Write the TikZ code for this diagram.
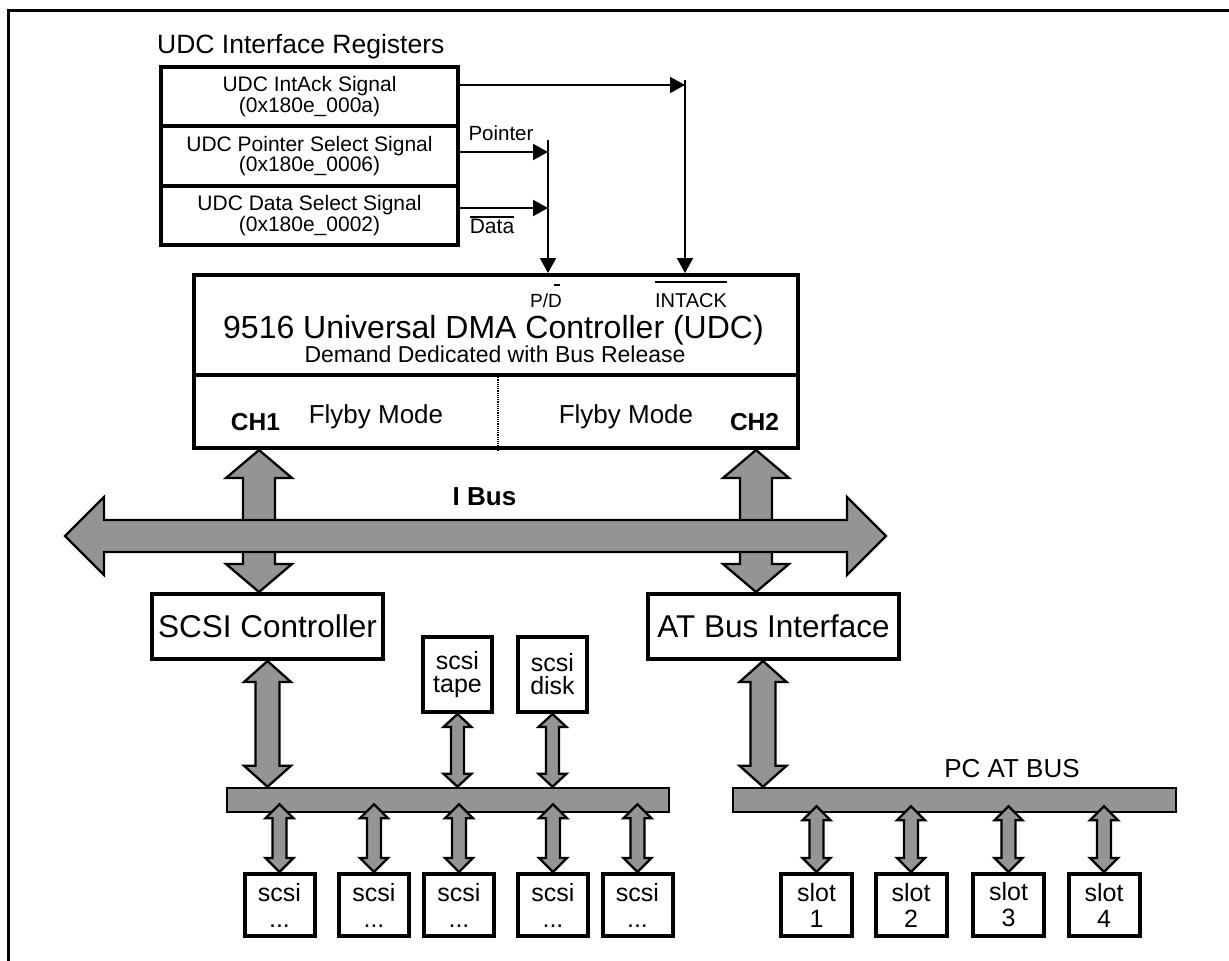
\documentclass[tikz,border=0pt]{standalone}
\usepackage{fontspec}
\setmainfont{Liberation Sans}
\usetikzlibrary{arrows.meta,calc}

% font size helper (sizes in pt, one pt per picture unit)
\newcommand\fs[2]{\fontsize{#1}{#2}\selectfont}

% text with a bar drawn above it: #1 raise of the bar, #2 text
\newlength\barwd
\newcommand\overbar[2]{\settowidth{\barwd}{#2}\rlap{\raisebox{#1}{\rule{\barwd}{2pt}}}#2}

% fat double-headed vertical arrow from #1 (upper tip) to #2 (lower tip)
% #3 shaft half width, #4 head half width, #5 head length
\newcommand\fatv[5]{%
  \filldraw[fat] let \p1=(#1), \p2=(#2) in
    (\x1,\y1) -- (\x1+#4pt,\y1-#5pt) -- (\x1+#3pt,\y1-#5pt) -- (\x1+#3pt,\y2+#5pt)
    -- (\x1+#4pt,\y2+#5pt) -- (\x1,\y2) -- (\x1-#4pt,\y2+#5pt) -- (\x1-#3pt,\y2+#5pt)
    -- (\x1-#3pt,\y1-#5pt) -- (\x1-#4pt,\y1-#5pt) -- cycle;}

% fat double-headed horizontal arrow from #1 (left tip) to #2 (right tip)
\newcommand\fath[5]{%
  \filldraw[fat] let \p1=(#1), \p2=(#2) in
    (\x1,\y1) -- (\x1+#5pt,\y1+#4pt) -- (\x1+#5pt,\y1+#3pt) -- (\x2-#5pt,\y1+#3pt)
    -- (\x2-#5pt,\y1+#4pt) -- (\x2,\y1) -- (\x2-#5pt,\y1-#4pt) -- (\x2-#5pt,\y1-#3pt)
    -- (\x1+#5pt,\y1-#3pt) -- (\x1+#5pt,\y1-#4pt) -- cycle;}

\tikzset{
  frameline/.style={line width=3pt},
  regbox/.style={draw, fill=white, line width=4pt, minimum width=297pt, minimum height=59.3pt,
    inner sep=0pt, align=center, font=\fs{21}{19.5}},
  bigbox/.style={draw, line width=4pt, minimum width=604pt, minimum height=173pt, inner sep=0pt},
  ctlbox/.style={draw, fill=white, line width=4pt, minimum height=65pt, inner sep=0pt,
    font=\fs{31.5}{32}},
  devbox/.style={draw, fill=white, line width=4pt, minimum width=70pt, minimum height=62pt,
    inner sep=0pt, align=center, font=\fs{25}{26}},
  slotbox/.style={devbox, minimum width=71pt, font=\fs{25}{26}},
  tallbox/.style={devbox, minimum width=69pt, minimum height=75pt, font=\fs{25}{23}},
  busbar/.style={draw, fill=black!42, line width=2.5pt, minimum height=24pt, inner sep=0pt},
  fat/.style={fill=black!42, draw=black, line width=2.3pt, line join=miter},
  sig/.style={line width=2pt},
  sigarrow/.style={sig, -{Triangle[length=15pt,width=16pt]}},
  lbl/.style={anchor=base, inner sep=0pt},
  divider/.style={line width=1.2pt, densely dotted},
}

\begin{document}
\begin{tikzpicture}[x=1pt, y=-1pt]
\useasboundingbox (0,0) rectangle (1229,961);

% outer frame (top and left edges)
\draw[frameline] (8.5,961) -- (8.5,10) -- (1229,10);

% ---------- interface registers ----------
\node[lbl, anchor=base west, font=\fs{26.5}{27}] (regtitle) at (157,53) {UDC Interface Registers};
\node[regbox] (reg1) at (309.5,96.7)  {UDC IntAck Signal\\(0x180e\_000a)};
\node[regbox] (reg2) at (309.5,156)   {UDC Pointer Select Signal\\(0x180e\_0006)};
\node[regbox] (reg3) at (309.5,215.3) {UDC Data Select Signal\\(0x180e\_0002)};

% ---------- UDC ----------
\node[bigbox] (udc) at (496,361.5) {};
\coordinate (udcsplit) at (0,375);
\draw[line width=4pt] (udc.west |- udcsplit) -- (udc.east |- udcsplit);
\coordinate (divtop) at (498,375);
\draw[divider] (divtop) -- (divtop |- udc.south);

\node[lbl, font=\fs{19}{19}] (pd) at (546,307)
  {P/\rlap{\hspace{0.3em}\raisebox{21pt}{\rule{0.3em}{2pt}}}D};
\node[lbl, font=\fs{20}{20}] (intack) at (691,307) {\overbar{24pt}{INTACK}};
\node[lbl, font=\fs{32}{32}] (udctitle) at (493.5,338) {9516 Universal DMA Controller (UDC)};
\node[lbl, font=\fs{23}{23}] (udcsub) at (495,362) {Demand Dedicated with Bus Release};
\node[lbl, font=\fs{26}{26}] (fly1) at (376,423) {Flyby Mode};
\node[lbl, font=\fs{26}{26}] (fly2) at (626,423) {Flyby Mode};
\node[lbl, font=\fs{24.5}{25}\bfseries] (ch1lbl) at (255.5,430) {CH1};
\node[lbl, font=\fs{24.5}{25}\bfseries] (ch2lbl) at (754.5,430) {CH2};

% ---------- register signals ----------
\coordinate (intackY) at (0,85);
\coordinate (intackX) at (685,80);
\coordinate (ptrY) at (0,152);
\coordinate (dataY) at (0,208);
\coordinate (pdX) at (548,140);
\draw[sigarrow] (reg1.east |- intackY) -- (intackX |- intackY);
\draw[sigarrow] (intackX) -- (intackX |- udc.north);
\draw[sigarrow] (reg2.east |- ptrY) -- (pdX |- ptrY);
\draw[sigarrow] (reg3.east |- dataY) -- (pdX |- dataY);
\draw[sigarrow] (pdX) -- (pdX |- udc.north);
\node[lbl, font=\fs{20.5}{21}] (ptrlbl) at (501,140) {Pointer};
\node[lbl, font=\fs{21}{21}] (datalbl) at (492,233) {\overbar{15pt}{Data}};

% ---------- controllers, devices and buses ----------
\node[ctlbox, minimum width=231pt] (scsictl) at (267.5,626.5) {SCSI Controller};
\node[ctlbox, minimum width=251pt] (atbus) at (773.5,626.5) {AT Bus Interface};
\node[tallbox] (tape) at (457.5,674.5) {scsi\\tape};
\node[tallbox] (disk) at (552.5,674.5) {scsi\\disk};
\node[busbar, minimum width=442pt] (scsibus) at (448,800) {};
\node[busbar, minimum width=443pt] (pcbus) at (954.5,800) {};
\node[lbl, font=\fs{26}{26}] (pclbl) at (1012,777) {PC AT BUS};

\node[devbox] (s1) at (279.5,905) {scsi\\...};
\node[devbox] (s2) at (374,905)   {scsi\\...};
\node[devbox] (s3) at (459,905)   {scsi\\...};
\node[devbox] (s4) at (553,905)   {scsi\\...};
\node[devbox] (s5) at (637.5,905) {scsi\\...};

\node[slotbox] (slot1) at (816.5,905) {slot\\1};
\node[slotbox] (slot2) at (911,905)   {slot\\2};
\node[slotbox] (slot3) at (1008.5,905){slot\\3};
\node[slotbox] (slot4) at (1104,905)  {slot\\4};

% ---------- channel arrows and I Bus ----------
\coordinate (ch1) at (259,0);
\coordinate (ch2) at (756,0);
\fatv{ch1 |- udc.south}{ch1 |- scsictl.north}{16}{33}{28}
\fatv{ch2 |- udc.south}{ch2 |- atbus.north}{16}{33}{28}

\coordinate (ibusL) at (65,536);
\coordinate (ibusR) at (886,536);
\fath{ibusL}{ibusR}{16}{39}{39}
\node[lbl, font=\fs{26}{26}\bfseries] (ibuslbl) at (484.5,505) {I Bus};

% ---------- local bus arrows ----------
\fatv{scsictl.south}{scsibus.north -| scsictl.south}{12}{23.5}{21}
\coordinate (atx) at (763,0);
\fatv{atx |- atbus.south}{atx |- pcbus.north}{12.5}{23.5}{21}
\fatv{tape.south}{scsibus.north -| tape.south}{6.5}{14}{13}
\fatv{disk.south}{scsibus.north -| disk.south}{6.5}{14}{13}

\foreach \d in {s1,s2,s3,s4,s5}{
  \fatv{$(scsibus.south -| \d.north)+(0,-9)$}{\d.north}{7}{14}{14}
}
\foreach \d in {slot1,slot2,slot3,slot4}{
  \fatv{$(pcbus.south -| \d.north)+(0,-7)$}{\d.north}{7}{14}{14}
}
\end{tikzpicture}
\end{document}
